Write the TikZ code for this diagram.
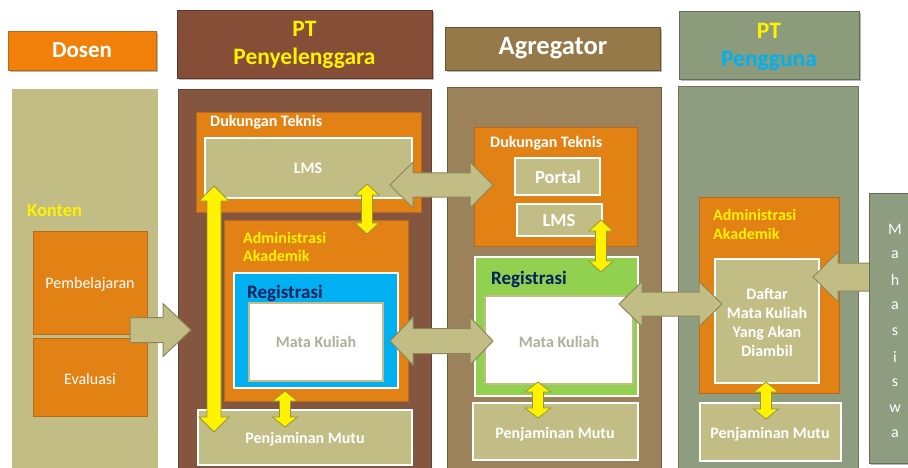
\documentclass[tikz,border=0pt]{standalone}
\usepackage{fontspec}
\setmainfont{Carlito}
\usetikzlibrary{shadows}
\definecolor{dosenor}{RGB}{240,128,10}
\definecolor{boxor}{RGB}{226,130,20}
\definecolor{boxorb}{RGB}{185,105,25}
\definecolor{penyhead}{RGB}{135,78,55}
\definecolor{penybody}{RGB}{132,86,63}
\definecolor{agrhead}{RGB}{150,121,72}
\definecolor{agrbody}{RGB}{155,130,90}
\definecolor{pengghead}{RGB}{140,155,124}
\definecolor{penggbody}{RGB}{142,157,128}
\definecolor{khaki}{RGB}{194,189,133}
\definecolor{khakib}{RGB}{140,135,90}
\definecolor{yelb}{RGB}{150,150,60}
\definecolor{regblue}{RGB}{0,176,240}
\definecolor{reggreen}{RGB}{146,208,80}
\definecolor{navy}{RGB}{0,32,96}
\definecolor{mktext}{RGB}{172,178,152}
\definecolor{cyantext}{RGB}{0,176,240}
\newcommand{\vdarr}[7]{%
 \draw[#1] (#2,#3) -- ({#2+#6},{#3+#7}) -- ({#2+#5},{#3+#7}) -- ({#2+#5},{#4-#7}) -- ({#2+#6},{#4-#7}) -- (#2,#4) -- ({#2-#6},{#4-#7}) -- ({#2-#5},{#4-#7}) -- ({#2-#5},{#3+#7}) -- ({#2-#6},{#3+#7}) -- cycle;}
\newcommand{\hdarr}[7]{%
 \draw[#1] (#3,#2) -- ({#3+#7},{#2-#6}) -- ({#3+#7},{#2-#5}) -- ({#4-#7},{#2-#5}) -- ({#4-#7},{#2-#6}) -- (#4,#2) -- ({#4-#7},{#2+#6}) -- ({#4-#7},{#2+#5}) -- ({#3+#7},{#2+#5}) -- ({#3+#7},{#2+#6}) -- cycle;}
\newcommand{\rarr}[7]{%
 \draw[#1] (#3,{#2-#5}) -- ({#4-#7},{#2-#5}) -- ({#4-#7},{#2-#6}) -- (#4,#2) -- ({#4-#7},{#2+#6}) -- ({#4-#7},{#2+#5}) -- (#3,{#2+#5}) -- cycle;}
\newcommand{\larr}[7]{%
 \draw[#1] (#4,{#2-#5}) -- ({#3+#7},{#2-#5}) -- ({#3+#7},{#2-#6}) -- (#3,#2) -- ({#3+#7},{#2+#6}) -- ({#3+#7},{#2+#5}) -- (#4,{#2+#5}) -- cycle;}
\newcommand{\fs}[1]{\fontsize{#1}{#1}\selectfont}
\begin{document}
\begin{tikzpicture}[x=1pt,y=-1pt,
  hshadow/.style={drop shadow={shadow xshift=2pt,shadow yshift=-2pt,opacity=0.4,fill=black!70}},
  orbox/.style={fill=boxor,draw=boxorb,line width=1pt},
  kbox/.style={fill=khaki,draw=white,line width=1.8pt},
  kbig/.style={fill=khaki,draw=khakib,line width=1pt,line join=miter},
  ybig/.style={fill=yellow,draw=yelb,line width=0.8pt,line join=miter},
  wbold/.style={text=white,font=\bfseries\fs{16}},
  ytitle/.style={text=yellow,font=\bfseries\fs{16},anchor=west},
  dtitle/.style={text=white,font=\bfseries\fs{16},anchor=west},
  regtitle/.style={text=navy,font=\bfseries\fs{19},anchor=west},
  mk/.style={text=mktext,font=\bfseries\fs{16}},
  inner sep=0pt]
\useasboundingbox (0,0) rectangle (908,468);
\fill[white] (0,0) rectangle (908,468);

% ---- headers
\path[fill=dosenor,draw=boxorb,line width=0.8pt,hshadow] (8,31) rectangle (156,70);
\node[text=white,font=\bfseries\fs{23}] (hdosen) at (82,50) {Dosen};
\path[fill=penyhead,draw=penyhead!70!black,line width=0.8pt,hshadow] (177,10) rectangle (432,78);
\node[text=yellow,font=\bfseries\fs{23.5},align=center] (hpeny) at (304.5,45) {PT\\[5pt]Penyelenggara};
\path[fill=agrhead,draw=agrhead!70!black,line width=0.8pt,hshadow] (445,27) rectangle (660,70);
\node[text=white,font=\bfseries\fs{26.5}] (hagr) at (553,48) {Agregator};
\path[fill=pengghead,draw=pengghead!70!black,line width=0.8pt,hshadow] (679,11) rectangle (859,79);
\node[font=\bfseries\fs{23.5},align=center] (hpengg) at (769,47) {\textcolor{yellow}{PT}\\[5pt]\textcolor{cyantext}{Pengguna}};

% ---- column bodies
\fill[khaki] (12,89) rectangle (158,470);
\path[fill=penybody,draw=penybody!75!black,line width=0.8pt] (178,89) rectangle (431,470);
\path[fill=agrbody,draw=agrbody!70!black,line width=0.8pt] (447,87) rectangle (661,470);
\path[fill=penggbody,draw=penggbody!75!black,line width=0.8pt] (678,86) rectangle (858,470);

% ---- Dosen column
\node[text=yellow,font=\bfseries\fs{18.5},anchor=west] (konten) at (27,211) {Konten};
\path[orbox] (33,231) rectangle (147,334);
\node[text=white,font=\fs{16}] (pemb) at (90,284) {Pembelajaran};
\path[orbox] (33,338) rectangle (147,416);
\node[text=white,font=\fs{16}] (eval) at (90,379) {Evaluasi};

% ---- PT Penyelenggara
\path[orbox] (196,113) rectangle (421,212);
\node[dtitle] (dt1) at (210,122) {Dukungan Teknis};
\path[kbox] (205,138) rectangle (412,198);
\node[text=white,font=\bfseries\fs{16}] (lms1) at (308,168) {LMS};
\path[orbox] (224,220) rectangle (408,401);
\node[ytitle] (adm1) at (243,238) {Administrasi};
\node[ytitle] (akd1) at (243,256) {Akademik};
\path[fill=regblue,draw=white,line width=1.8pt] (234,273) rectangle (398,388);
\node[regtitle] (reg1) at (247,293) {Registrasi};
\path[fill=white,draw=khaki,line width=1.5pt] (249,303) rectangle (383,381);
\node[mk] (mk1) at (316,342) {Mata Kuliah};
\path[kbox] (198,410) rectangle (412,465);
\node[wbold] (pm1) at (305,439) {Penjaminan Mutu};

% ---- Agregator
\path[orbox] (474,128) rectangle (637,246);
\node[dtitle] (dt2) at (490,143) {Dukungan Teknis};
\path[kbox] (515,158) rectangle (600,195);
\node[text=white,font=\bfseries\fs{18.5}] (portal) at (558,177) {Portal};
\path[kbox] (517,204) rectangle (602,236);
\node[text=white,font=\bfseries\fs{18.5}] (lms2) at (559,220) {LMS};
\path[fill=reggreen,draw=white,line width=1.8pt] (475,257) rectangle (638,396);
\node[regtitle] (reg2) at (491,279) {Registrasi};
\path[fill=white,draw=khaki,line width=1.5pt] (485,296) rectangle (633,384);
\node[mk] (mk2) at (559,342) {Mata Kuliah};
\path[kbox] (473,403) rectangle (638,460);
\node[wbold] (pm2) at (555,434) {Penjaminan Mutu};

% ---- PT Pengguna
\path[orbox] (699,197) rectangle (839,393);
\node[ytitle] (adm3) at (713,215) {Administrasi};
\node[ytitle] (akd3) at (713,234) {Akademik};
\path[kbox] (715,259) rectangle (819,383);
\node[text=white,font=\bfseries\fontsize{16}{19}\selectfont,align=center] (daftar) at (767,322) {Daftar\\Mata Kuliah\\Yang Akan\\Diambil};
\path[kbox] (700,403) rectangle (841,461);
\node[wbold] (pm3) at (770,434) {Penjaminan Mutu};

% ---- Mahasiswa arrow + box
\larr{kbig}{277}{813}{872}{14}{25}{25}
\path[fill=penggbody,draw=penggbody!70!black,line width=0.8pt,hshadow] (869,193) rectangle (912,463);
\foreach \ch [count=\i from 0] in {M,a,h,a,s,i,s,w,a}
  \node[text=white,font=\fs{16}] (mhs\i) at (895,{229+25.6*\i}) {\ch};

% ---- khaki block arrows
\rarr{kbig}{330}{130}{191}{12.5}{26.5}{28}
\hdarr{kbig}{185}{390}{493}{12}{23}{23}
\hdarr{kbig}{341}{390}{493}{12.5}{24}{23}
\hdarr{kbig}{304}{619}{722}{12}{22.5}{23}

% ---- yellow double arrows
\vdarr{ybig}{214}{186}{432}{7}{15}{15}
\vdarr{ybig}{367}{184}{234}{5.5}{12}{11}
\vdarr{ybig}{285}{391}{427}{5.5}{12.5}{10}
\vdarr{ybig}{601}{220}{272}{5.5}{12}{11}
\vdarr{ybig}{538}{382}{418}{5.5}{13}{10}
\vdarr{ybig}{766}{382}{419}{5.5}{12.5}{10}
\end{tikzpicture}
\end{document}
